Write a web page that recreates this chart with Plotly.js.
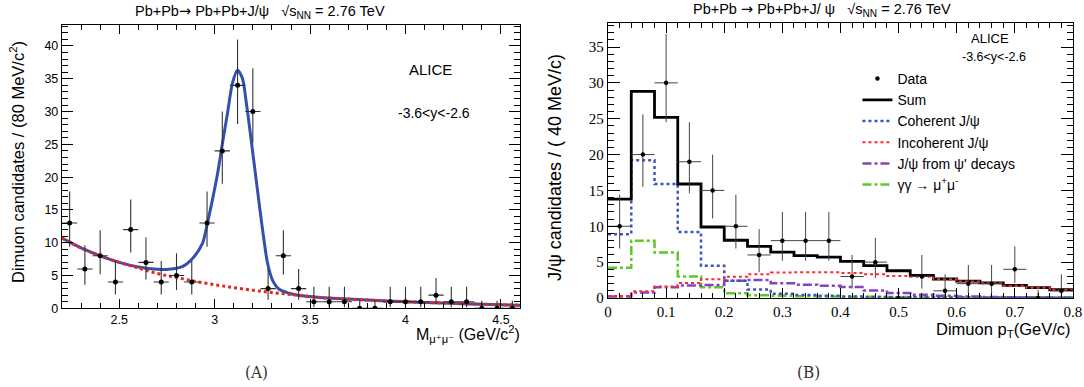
<!DOCTYPE html>
<html><head><meta charset="utf-8">
<script src="https://cdn.plot.ly/plotly-3.0.1.min.js"></script>
<style>html,body{margin:0;padding:0;background:#fff}#chart{width:1084px;height:387px}</style>
</head><body><div id="chart"></div>
<script>
// ---------- Panel A: invariant mass ----------
const massCenters = [2.24,2.32,2.40,2.48,2.56,2.64,2.72,2.80,2.88,2.96,3.04,3.12,3.20,3.28,3.36,3.44,3.52,3.60,3.68,3.76,3.84,3.92,4.00,4.08,4.16,4.24,4.32,4.40,4.48,4.56];
const massCounts  = [13,6,8,4,12,7,4,5,4,13,24,34,30,3,8,3,1,1,1,0,0,1,1,1,2,1,1,0,0,0];
const massErrUp   = [4.8,3.6,3.9,3.2,4.6,3.8,3.2,3.4,3.2,4.8,6.0,7.0,6.6,3.0,3.9,3.0,2.3,2.3,2.3,1.15,1.15,2.3,2.3,2.3,2.6,2.3,2.3,1.15,1.15,1.15];
const massErrDn   = [3.6,2.4,2.8,1.9,3.5,2.6,1.9,2.2,1.9,3.6,5.0,5.9,4.7,1.7,2.9,1.7,0.83,0.83,0.83,0,0,0.83,0.83,0.83,1.3,0.83,0.83,0,0,0];
const fitX = [2.2,2.3,2.4,2.5,2.6,2.7,2.76,2.83,2.884,2.936,2.962,2.988,3.015,3.041,3.067,3.093,3.119,3.145,3.166,3.189,3.211,3.233,3.256,3.277,3.303,3.338,3.39,3.442,3.5,3.6,3.8,4.0,4.2,4.4,4.6];
const fitY = [10.7,9.2,8.0,7.0,6.3,5.95,5.94,6.34,7.6,9.9,13.0,16.5,20.5,25.2,29.7,34.3,36.3,35.1,31.3,26.2,21.1,16.0,10.9,6.9,4.3,2.9,2.3,1.95,1.8,1.55,1.25,1.0,0.8,0.62,0.45];
const bgX = [2.2,2.3,2.4,2.5,2.6,2.7,2.8,2.9,3.0,3.1,3.2,3.3,3.4,3.5,3.6,3.8,4.0,4.2,4.4,4.6];
const bgY = [10.7,9.2,8.0,7.0,6.15,5.3,4.7,4.1,3.6,3.15,2.75,2.4,2.1,1.8,1.55,1.25,1.0,0.8,0.62,0.45];

// ---------- Panel B: pT distribution ----------
const ptEdges   = [0,0.04,0.08,0.12,0.16,0.20,0.24,0.28,0.32,0.36,0.40,0.44,0.48,0.52,0.56,0.60,0.64,0.68,0.72,0.76,0.80];
const ptCenters = [0.02,0.06,0.10,0.14,0.18,0.22,0.26,0.30,0.34,0.38,0.42,0.46,0.50,0.54,0.58,0.62,0.66,0.70,0.74,0.78];
const ptCounts  = [10,20,30,19,15,10,6,8,8,8,3,5,0,3,1,2,2,4,0,1];
const ptErrUp   = [4.4,5.6,6.8,5.5,5.0,4.4,3.6,4.0,4.0,4.0,3.0,3.4,1.15,3.0,2.3,2.6,2.6,3.2,1.15,2.3];
const ptErrDn   = [3.1,4.5,5.5,4.4,3.9,3.1,2.4,2.8,2.8,2.8,1.7,2.2,0,1.7,0.83,1.3,1.3,1.9,0,0.83];
const sumH = [13.8,28.8,25.2,15.9,9.9,8.05,7.2,6.4,5.9,5.7,5.1,4.5,3.8,3.15,2.65,2.35,2.1,1.75,1.45,1.15];
const cohH = [8.9,19.2,15.9,9.2,4.5,2.4,1.2,0.6,0.42,0.3,0.2,0.15,0.12,0.1,0.08,0.06,0.05,0.04,0.03,0.02];
const incH = [0.28,0.95,1.6,2.1,2.6,2.95,3.3,3.55,3.6,3.6,3.5,3.3,3.05,2.95,2.6,2.3,2.05,1.72,1.42,1.12];
const psiH = [0.2,0.75,1.5,1.75,1.8,2.4,2.5,2.05,1.85,1.7,1.55,1.05,0.7,0.45,0.3,0.22,0.15,0.1,0.08,0.05];
const ggH  = [4.2,8.0,6.35,3.0,1.5,0.65,0.38,0.3,0.25,0.2,0.18,0.16,0.15,0.14,0.13,0.12,0.11,0.1,0.1,0.1];

function stepY(h){ return h.concat([h[h.length-1]]); }

const traces = [
  {x: fitX, y: fitY, xaxis:'x', yaxis:'y', mode:'lines', line:{color:'#3350ad', width:3, shape:'spline', smoothing:0.8}, showlegend:false, hoverinfo:'skip'},
  {x: bgX, y: bgY, xaxis:'x', yaxis:'y', mode:'lines', line:{color:'#e8251f', width:3, dash:'dot', shape:'spline'}, showlegend:false, hoverinfo:'skip'},
  {x: massCenters, y: massCounts, xaxis:'x', yaxis:'y', mode:'markers', marker:{color:'#000', size:5},
   error_y:{type:'data', symmetric:false, array: massErrUp, arrayminus: massErrDn, color:'#333', thickness:1.1, width:0},
   error_x:{type:'constant', value:0.04, color:'#333', thickness:1.1, width:0}, showlegend:false},

  {x: ptEdges, y: stepY(ggH), xaxis:'x2', yaxis:'y2', mode:'lines', name:'γγ → μ<sup>+</sup>μ<sup>-</sup>', legendrank:6,
   line:{color:'#62c52c', width:2.5, dash:'dashdot', shape:'hv'}},
  {x: ptEdges, y: stepY(psiH), xaxis:'x2', yaxis:'y2', mode:'lines', name:'J/ψ from ψ\' decays', legendrank:5,
   line:{color:'#8443c0', width:2.5, dash:'dashdot', shape:'hv'}},
  {x: ptEdges, y: stepY(cohH), xaxis:'x2', yaxis:'y2', mode:'lines', name:'Coherent J/ψ', legendrank:3,
   line:{color:'#3a55c2', width:2.5, dash:'dot', shape:'hv'}},
  {x: ptEdges, y: stepY(sumH), xaxis:'x2', yaxis:'y2', mode:'lines', name:'Sum', legendrank:2,
   line:{color:'#000', width:2.8, shape:'hv'}},
  {x: ptEdges, y: stepY(incH), xaxis:'x2', yaxis:'y2', mode:'lines', name:'Incoherent J/ψ', legendrank:4,
   line:{color:'#ff2a2a', width:2, dash:'dot', shape:'hv'}},
  {x: ptCenters, y: ptCounts, xaxis:'x2', yaxis:'y2', mode:'markers', name:'Data', legendrank:1,
   marker:{color:'#000', size:4.5},
   error_y:{type:'data', symmetric:false, array: ptErrUp, arrayminus: ptErrDn, color:'#444', thickness:1, width:0},
   error_x:{type:'constant', value:0.02, color:'#444', thickness:1, width:0}}
];

const axBase = {showgrid:false, zeroline:false, showline:true, linecolor:'#000', linewidth:1.2,
  mirror:'allticks', ticks:'inside', tickcolor:'#000', tickwidth:1};

const SANS = 'Liberation Sans, Arial, DejaVu Sans, sans-serif';
function ann(xpx, ypx, text, size, extra){
  return Object.assign({xref:'paper', yref:'paper', x:xpx/1084, y:1-ypx/387, xanchor:'center', yanchor:'middle',
    text:text, showarrow:false, font:{size:size, family:SANS, color:'#000'}}, extra||{});
}

const layout = {
  width:1084, height:387, margin:{l:0,r:0,t:0,b:0}, paper_bgcolor:'#fff', plot_bgcolor:'#fff',
  font:{family:SANS, color:'#000'},
  showlegend:true,
  legend:{x:0.791, y:1-63/387, xanchor:'left', yanchor:'top', bgcolor:'rgba(0,0,0,0)', font:{size:14, family:SANS},
          traceorder:'normal', itemwidth:30, tracegroupgap:0},
  xaxis: Object.assign({}, axBase, {domain:[0.0572,0.4797], range:[2.2,4.6], anchor:'y',
     tickmode:'array', tickvals:[2.5,3,3.5,4,4.5], ticktext:['2.5','3','3.5','4','4.5'], ticklen:9,
     tickfont:{size:12.5, family:SANS},
     minor:{tickmode:'linear', tick0:2.2, dtick:0.1, ticklen:5, ticks:'inside', tickcolor:'#000'}}),
  yaxis: Object.assign({}, axBase, {domain:[0.2034,0.9354], range:[0,43.2], anchor:'x',
     tickmode:'linear', tick0:0, dtick:5, ticklen:11,
     tickfont:{size:12.5, family:SANS},
     minor:{tickmode:'linear', tick0:0, dtick:1, ticklen:6, ticks:'inside', tickcolor:'#000'}}),
  xaxis2: Object.assign({}, axBase, {domain:[0.5609,0.9898], range:[0,0.8], anchor:'y2',
     tickmode:'linear', tick0:0, dtick:0.1, ticklen:10,
     tickfont:{size:15, family:'Liberation Serif, Times New Roman, serif'},
     minor:{tickmode:'linear', tick0:0, dtick:0.02, ticklen:5, ticks:'inside', tickcolor:'#000'}}),
  yaxis2: Object.assign({}, axBase, {domain:[0.23,0.9406], range:[0,38.35], anchor:'x2',
     tickmode:'linear', tick0:0, dtick:5, ticklen:12,
     tickfont:{size:15, family:'Liberation Serif, Times New Roman, serif'},
     minor:{tickmode:'linear', tick0:0, dtick:1, ticklen:6, ticks:'inside', tickcolor:'#000'}}),
  annotations: [
    ann(260, 12, 'Pb+Pb<span style="font-family:DejaVu Sans">→</span> Pb+Pb+J/ψ   √s<sub>NN</sub> = 2.76 TeV', 14.5),
    ann(430, 69, 'ALICE', 15),
    ann(434, 113, '-3.6&lt;y&lt;-2.6', 14),
    ann(17, 162, 'Dimuon candidates / (80 MeV/c<sup>2</sup>)', 16.5, {textangle:-90}),
    ann(522, 334, 'M<sub>μ⁺μ⁻</sub> (GeV/c<sup>2</sup>)', 16, {xanchor:'right'}),
    ann(822, 10, 'Pb+Pb <span style="font-family:DejaVu Sans">→</span> Pb+Pb+J/ ψ   √s<sub>NN</sub> = 2.76 TeV', 14.5),
    ann(990, 39, 'ALICE', 13),
    ann(994, 57, '-3.6&lt;y&lt;-2.6', 12.5),
    ann(555, 168, 'J/ψ candidates / ( 40 MeV/c)', 18, {textangle:-90}),
    ann(1073, 330, 'Dimuon p<sub>T</sub>(GeV/c)', 16.5, {xanchor:'right'}),
    ann(256, 372, '(A)', 17, {font:{size:17, family:'DejaVu Serif Condensed, Liberation Serif, serif', color:'#333'}}),
    ann(808, 372, '(B)', 17, {font:{size:17, family:'DejaVu Serif Condensed, Liberation Serif, serif', color:'#333'}})
  ]
};

Plotly.newPlot('chart', traces, layout, {staticPlot:true, displayModeBar:false});
</script></body></html>
